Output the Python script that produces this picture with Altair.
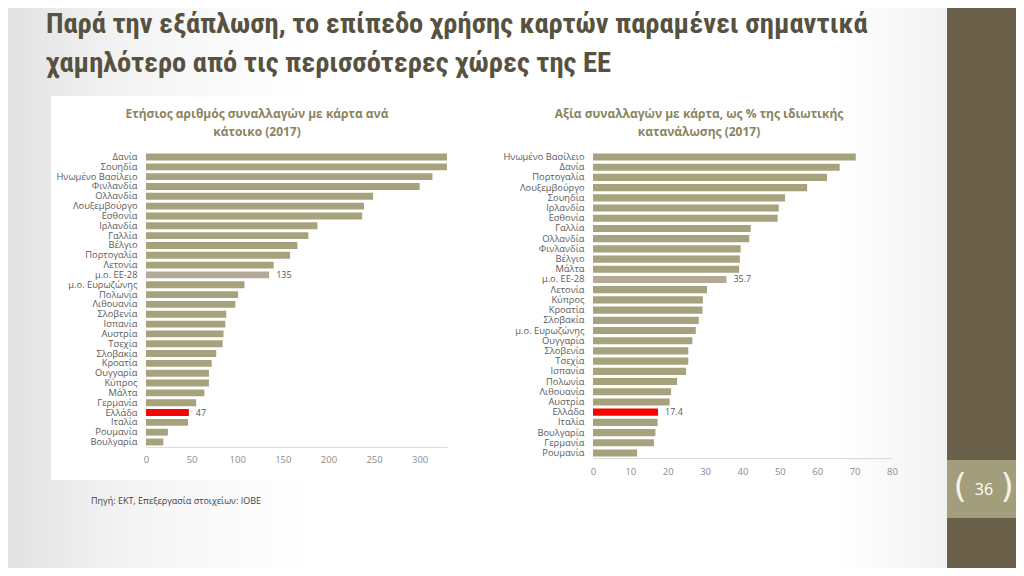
import altair as alt
import pandas as pd

# ---------------- data ----------------
left_countries = ["Δανία", "Σουηδία", "Ηνωμένο Βασίλειο", "Φινλανδία", "Ολλανδία",
                  "Λουξεμβούργο", "Εσθονία", "Ιρλανδία", "Γαλλία", "Βέλγιο",
                  "Πορτογαλία", "Λετονία", "μ.ο. ΕΕ-28", "μ.ο. Ευρωζώνης", "Πολωνία",
                  "Λιθουανία", "Σλοβενία", "Ισπανία", "Αυστρία", "Τσεχία",
                  "Σλοβακία", "Κροατία", "Ουγγαρία", "Κύπρος", "Μάλτα",
                  "Γερμανία", "Ελλάδα", "Ιταλία", "Ρουμανία", "Βουλγαρία"]
left_values = [330, 330, 314, 300, 249, 239, 237, 188, 178, 166,
               158, 140, 135, 108, 101, 98, 88, 87, 85, 84,
               77, 72, 69, 69, 64, 55, 47, 46, 24, 19]

right_countries = ["Ηνωμένο Βασίλειο", "Δανία", "Πορτογαλία", "Λουξεμβούργο", "Σουηδία",
                   "Ιρλανδία", "Εσθονία", "Γαλλία", "Ολλανδία", "Φινλανδία",
                   "Βέλγιο", "Μάλτα", "μ.ο. ΕΕ-28", "Λετονία", "Κύπρος",
                   "Κροατία", "Σλοβακία", "μ.ο. Ευρωζώνης", "Ουγγαρία", "Σλοβενία",
                   "Τσεχία", "Ισπανία", "Πολωνία", "Λιθουανία", "Αυστρία",
                   "Ελλάδα", "Ιταλία", "Βουλγαρία", "Γερμανία", "Ρουμανία"]
right_values = [70.3, 66.0, 62.6, 57.3, 51.4, 49.7, 49.4, 42.2, 41.8, 39.5,
                39.3, 39.1, 35.7, 30.5, 29.4, 29.3, 28.3, 27.5, 26.6, 25.5,
                25.5, 24.9, 22.5, 20.9, 20.5, 17.4, 17.3, 16.7, 16.3, 11.8]

left_ticks = [0, 50, 100, 150, 200, 250, 300]
right_ticks = [0, 10, 20, 30, 40, 50, 60, 70, 80]

avg_name = "μ.ο. ΕΕ-28"
gr_name = "Ελλάδα"

title_lines = ["Παρά την εξάπλωση, το επίπεδο χρήσης καρτών παραμένει σημαντικά",
               "χαμηλότερο από τις περισσότερες χώρες της ΕΕ"]
left_sub = ["Ετήσιος αριθμός συναλλαγών με κάρτα ανά", "κάτοικο (2017)"]
right_sub = ["Αξία συναλλαγών με κάρτα, ως % της ιδιωτικής", "κατανάλωσης (2017)"]
source_text = "Πηγή: ΕΚΤ, Επεξεργασία στοιχείων: ΙΟΒΕ"
page_no = "36"

# ---------------- styling ----------------
W, H = 1008, 560
M = 8  # page margin


def P(v):
    return v - M


FONT = "Open Sans"
TITLE_FONT = "Roboto Condensed, DejaVu Sans Condensed, Open Sans"
BAR = "#a6a27c"
AVG = "#b3a996"
GR = "#ff0000"
LBL = "#595959"
TICK = "#8c8c8c"


def make_df(countries, values, fmt):
    kinds = []
    labels = []
    for c, v in zip(countries, values):
        if c == avg_name:
            kinds.append("avg"); labels.append(fmt(v))
        elif c == gr_name:
            kinds.append("gr"); labels.append(fmt(v))
        else:
            kinds.append("normal"); labels.append("")
    return pd.DataFrame({"country": countries, "value": values,
                         "kind": kinds, "label": labels})


left_df = make_df(left_countries, left_values, lambda v: f"{v:g}")
right_df = make_df(right_countries, right_values, lambda v: f"{v:.1f}")


def panel(df, order, dmax, x0, x1, y0, y1, ticks):
    n = len(order)
    step = (y1 - y0) / (n - 1)
    yr = [P(y0 - step / 2), P(y1 + step / 2)]
    xr = [P(x0), P(x1)]
    yax = yr[1]
    xscale = alt.Scale(domain=[0, dmax], range=xr, nice=False, zero=True)
    yscale = alt.Scale(domain=order, range=yr, paddingInner=0.3, paddingOuter=0.15)
    xaxis = alt.Axis(orient="bottom", offset=-(H - yax), values=ticks,
                     grid=False, ticks=False, domain=True,
                     domainColor="#d9d9d9", domainWidth=1,
                     labelColor=TICK, labelFont=FONT, labelFontSize=9.5,
                     labelPadding=8, title=None, labelFlush=False, zindex=2)
    yaxis = alt.Axis(orient="left", offset=-xr[0], grid=False, ticks=False,
                     domain=False, labelColor=LBL, labelFont=FONT,
                     labelFontSize=9.3, labelPadding=9, title=None,
                     labelLimit=200, zindex=2)
    x_enc = alt.X("value:Q", scale=xscale, axis=xaxis)
    y_enc = alt.Y("country:N", scale=yscale, sort=order, axis=yaxis)
    bars = alt.Chart().mark_bar().encode(
        x=x_enc, y=y_enc,
        color=alt.Color("kind:N", scale=alt.Scale(domain=["normal", "avg", "gr"],
                                                  range=[BAR, AVG, GR]), legend=None))
    text = alt.Chart().transform_filter(alt.datum.label != "").mark_text(
        align="left", baseline="middle", dx=7, font=FONT, fontSize=9, color=LBL
    ).encode(x=x_enc, y=y_enc, text="label:N")
    return alt.layer(bars, text, data=df)


left_panel = panel(left_df, left_countries, 330, 146, 447, 157, 442, left_ticks)
right_panel = panel(right_df, right_countries, 80, 593, 892, 157, 453, right_ticks)

one = pd.DataFrame({"a": [0]})


def rect(x, x2, y, y2, fill):
    return alt.Chart(one).mark_rect(fill=fill, stroke=None).encode(
        x=alt.value(x), x2=alt.value(x2), y=alt.value(y), y2=alt.value(y2))


def label(txt, x, y, size, color, weight="normal", align="left",
          baseline="alphabetic", font=FONT):
    return alt.Chart(one).mark_text(
        align=align, baseline=baseline, fontSize=size, font=font,
        fontWeight=weight, color=color
    ).encode(x=alt.value(x), y=alt.value(y), text=alt.value(txt))


bg = alt.Chart(one).mark_rect(
    fill=alt.LinearGradient(gradient="linear", x1=0, x2=1, y1=0, y2=0,
                            stops=[alt.GradientStop(color="#e2e2e2", offset=0),
                                   alt.GradientStop(color="#f4f4f4", offset=0.12),
                                   alt.GradientStop(color="#ffffff", offset=0.3),
                                   alt.GradientStop(color="#ffffff", offset=0.82),
                                   alt.GradientStop(color="#f2f2f2", offset=0.93)])
).encode(x=alt.value(0), x2=alt.value(W), y=alt.value(0), y2=alt.value(H))

layers = [
    bg,
    rect(P(51), P(472), P(96), P(480), "#ffffff"),
    rect(P(947), W, 0, H, "#6a5f48"),
    rect(P(947), W, P(460), P(518), "#a29e7c"),
    label(page_no, P(984), P(490), 16, "#ffffff", align="center", baseline="middle"),
    label("(", P(960), P(488), 34, "#f4f2e6", align="center", baseline="middle",
          font="DejaVu Sans"),
    label(")", P(1007), P(488), 34, "#f4f2e6", align="center", baseline="middle",
          font="DejaVu Sans"),
    label(title_lines[0], P(46), P(33), 28.5, "#57523f", weight="bold",
          font=TITLE_FONT),
    label(title_lines[1], P(46), P(72), 28.5, "#57523f", weight="bold",
          font=TITLE_FONT),
    label(left_sub[0], P(257), P(114), 12, "#8a845f", weight="bold", align="center",
          baseline="middle"),
    label(left_sub[1], P(257), P(132), 12, "#8a845f", weight="bold", align="center",
          baseline="middle"),
    label(right_sub[0], P(699), P(114), 12, "#8a845f", weight="bold", align="center",
          baseline="middle"),
    label(right_sub[1], P(699), P(132), 12, "#8a845f", weight="bold", align="center",
          baseline="middle"),
    label(source_text, P(91), P(501), 9, "#404040", baseline="middle"),
    left_panel,
    right_panel,
]

chart = alt.layer(*layers).resolve_scale(
    x="independent", y="independent", color="shared"
).resolve_axis(
    x="independent", y="independent"
).properties(
    width=W, height=H, padding=0, autosize=alt.AutoSizeParams(type="none"),
    background="#ffffff"
).configure_view(stroke=None)

chart.save("out.html", embed_options={"renderer": "svg", "actions": False})
